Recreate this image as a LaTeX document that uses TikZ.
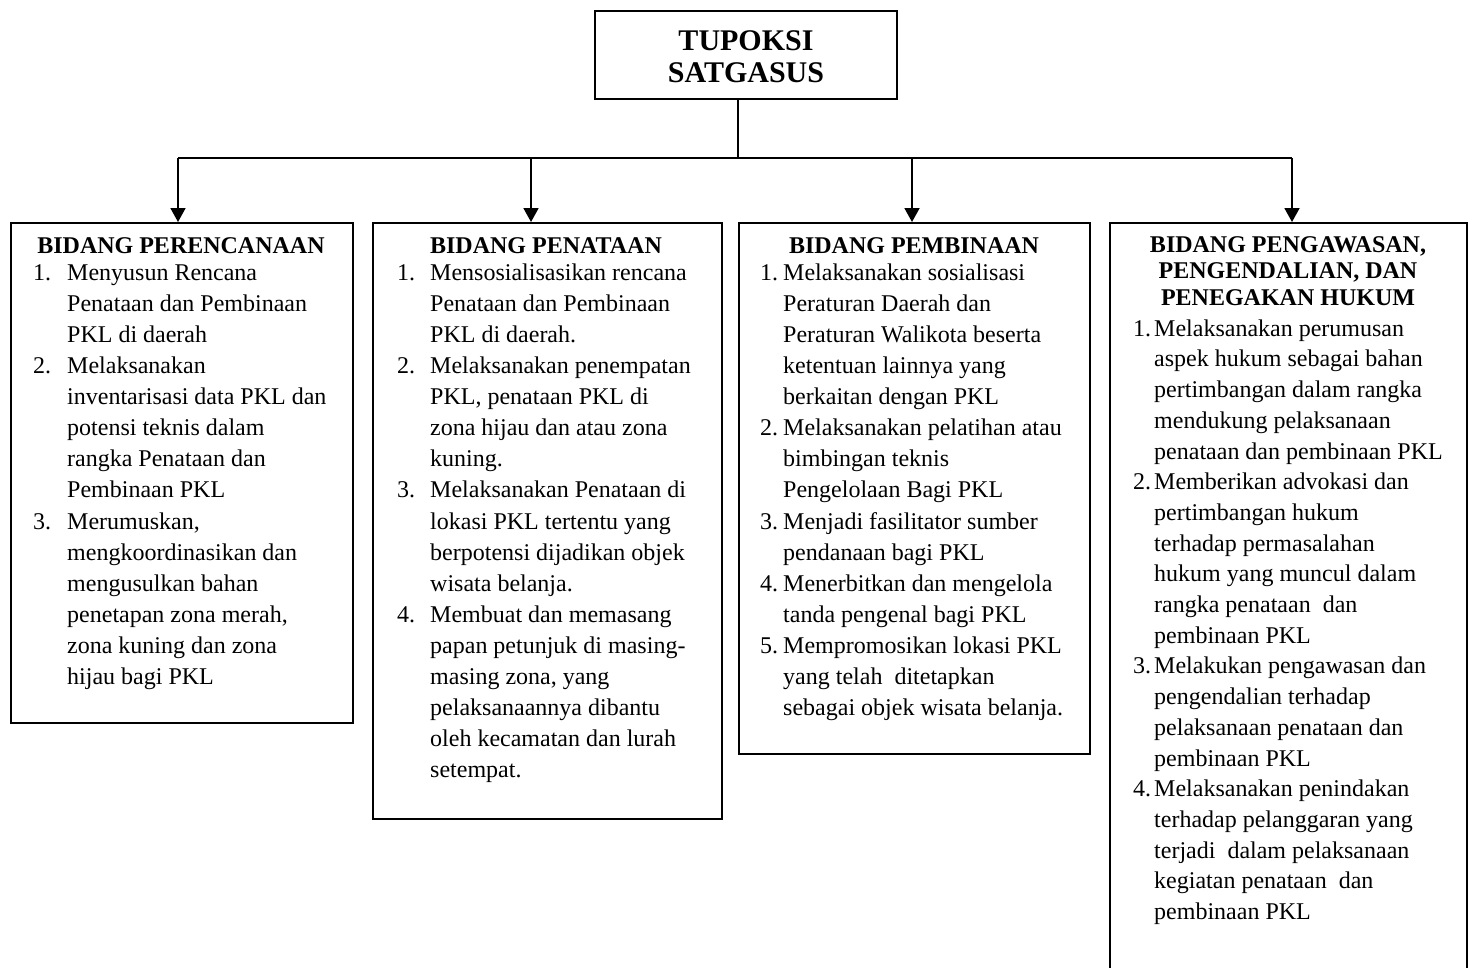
\documentclass[tikz,border=0pt]{standalone}
\usepackage{fontspec}
\setmainfont{Liberation Serif}
\usetikzlibrary{arrows.meta}
% numbered entry with a hanging indent of #1
\newcommand\tnum[2]{\makebox[#1][l]{#2}}
\newcommand\tind[1]{\hspace*{#1}}

\begin{document}
\begin{tikzpicture}[x=1pt,y=-1pt,
  frame/.style={draw, line width=1.8pt, inner sep=0pt, anchor=north west},
  head/.style={font=\fontsize{24}{26.5}\selectfont\bfseries, align=center, inner sep=0pt},
  body/.style={font=\fontsize{24}{31.1}\selectfont, align=left, inner sep=0pt, anchor=north west},
  link/.style={line width=1.8pt},
  arrow/.style={link, -{Triangle[length=14pt,width=15pt]}}]

\useasboundingbox (0,0) rectangle (1472,967);
\clip (0,0) rectangle (1472,967);

% root box
\node[frame, minimum width=302pt, minimum height=88pt] (top) at (594,10) {};
\node[head, font=\fontsize{30}{32}\selectfont\bfseries] (toptext) at (746,57) {TUPOKSI\\SATGASUS};

% division boxes
\node[frame, minimum width=342pt, minimum height=500pt] (b1) at (10,222) {};
\node[frame, minimum width=349pt, minimum height=596pt] (b2) at (372,222) {};
\node[frame, minimum width=351pt, minimum height=531pt] (b3) at (738,222) {};
\node[frame, minimum width=357pt, minimum height=800pt] (b4) at (1109,222) {};

% connectors
\coordinate (bus) at (738,158);
\coordinate (a1) at (178,158);
\coordinate (a2) at (531,158);
\coordinate (a3) at (912,158);
\coordinate (a4) at (1292,158);
\draw[link] (top.south -| bus) -- (bus);
\draw[link] (a1) -- (a4);
\foreach \i in {1,2,3,4}
  \draw[arrow] (a\i) -- (a\i |- b\i.north);

% headings
\node[head, anchor=base] (h1) at (181,253) {BIDANG PERENCANAAN};
\node[head, anchor=base] (h2) at (546,253) {BIDANG PENATAAN};
\node[head, anchor=base] (h3) at (914,253) {BIDANG PEMBINAAN};
\node[head] (h4) at (1288,271) {BIDANG PENGAWASAN,\\PENGENDALIAN, DAN\\PENEGAKAN HUKUM};

% lists
\node[body] (l1) at (33,263) {\rule{0pt}{17pt}%
\tnum{34pt}{1.}Menyusun Rencana\\
\tind{34pt}Penataan dan Pembinaan\\
\tind{34pt}PKL di daerah\\
\tnum{34pt}{2.}Melaksanakan\\
\tind{34pt}inventarisasi data PKL dan\\
\tind{34pt}potensi teknis dalam\\
\tind{34pt}rangka Penataan dan\\
\tind{34pt}Pembinaan PKL\\
\tnum{34pt}{3.}Merumuskan,\\
\tind{34pt}mengkoordinasikan dan\\
\tind{34pt}mengusulkan bahan\\
\tind{34pt}penetapan zona merah,\\
\tind{34pt}zona kuning dan zona\\
\tind{34pt}hijau bagi PKL};

\node[body] (l2) at (397,263) {\rule{0pt}{17pt}%
\tnum{33pt}{1.}Mensosialisasikan rencana\\
\tind{33pt}Penataan dan Pembinaan\\
\tind{33pt}PKL di daerah.\\
\tnum{33pt}{2.}Melaksanakan penempatan\\
\tind{33pt}PKL, penataan PKL di\\
\tind{33pt}zona hijau dan atau zona\\
\tind{33pt}kuning.\\
\tnum{33pt}{3.}Melaksanakan Penataan di\\
\tind{33pt}lokasi PKL tertentu yang\\
\tind{33pt}berpotensi dijadikan objek\\
\tind{33pt}wisata belanja.\\
\tnum{33pt}{4.}Membuat dan memasang\\
\tind{33pt}papan petunjuk di masing-\\
\tind{33pt}masing zona, yang\\
\tind{33pt}pelaksanaannya dibantu\\
\tind{33pt}oleh kecamatan dan lurah\\
\tind{33pt}setempat.};

\node[body] (l3) at (760,263) {\rule{0pt}{17pt}%
\tnum{23pt}{1.}Melaksanakan sosialisasi\\
\tind{23pt}Peraturan Daerah dan\\
\tind{23pt}Peraturan Walikota beserta\\
\tind{23pt}ketentuan lainnya yang\\
\tind{23pt}berkaitan dengan PKL\\
\tnum{23pt}{2.}Melaksanakan pelatihan atau\\
\tind{23pt}bimbingan teknis\\
\tind{23pt}Pengelolaan Bagi PKL\\
\tnum{23pt}{3.}Menjadi fasilitator sumber\\
\tind{23pt}pendanaan bagi PKL\\
\tnum{23pt}{4.}Menerbitkan dan mengelola\\
\tind{23pt}tanda pengenal bagi PKL\\
\tnum{23pt}{5.}Mempromosikan lokasi PKL\\
\tind{23pt}yang telah\ \ ditetapkan\\
\tind{23pt}sebagai objek wisata belanja.};

\node[body, font=\fontsize{24}{30.7}\selectfont] (l4) at (1133,319) {\rule{0pt}{17pt}%
\tnum{21pt}{1.}Melaksanakan perumusan\\
\tind{21pt}aspek hukum sebagai bahan\\
\tind{21pt}pertimbangan dalam rangka\\
\tind{21pt}mendukung pelaksanaan\\
\tind{21pt}penataan dan pembinaan PKL\\
\tnum{21pt}{2.}Memberikan advokasi dan\\
\tind{21pt}pertimbangan hukum\\
\tind{21pt}terhadap permasalahan\\
\tind{21pt}hukum yang muncul dalam\\
\tind{21pt}rangka penataan\ \ dan\\
\tind{21pt}pembinaan PKL\\
\tnum{21pt}{3.}Melakukan pengawasan dan\\
\tind{21pt}pengendalian terhadap\\
\tind{21pt}pelaksanaan penataan dan\\
\tind{21pt}pembinaan PKL\\
\tnum{21pt}{4.}Melaksanakan penindakan\\
\tind{21pt}terhadap pelanggaran yang\\
\tind{21pt}terjadi\ \ dalam pelaksanaan\\
\tind{21pt}kegiatan penataan\ \ dan\\
\tind{21pt}pembinaan PKL};
\end{tikzpicture}
\end{document}
